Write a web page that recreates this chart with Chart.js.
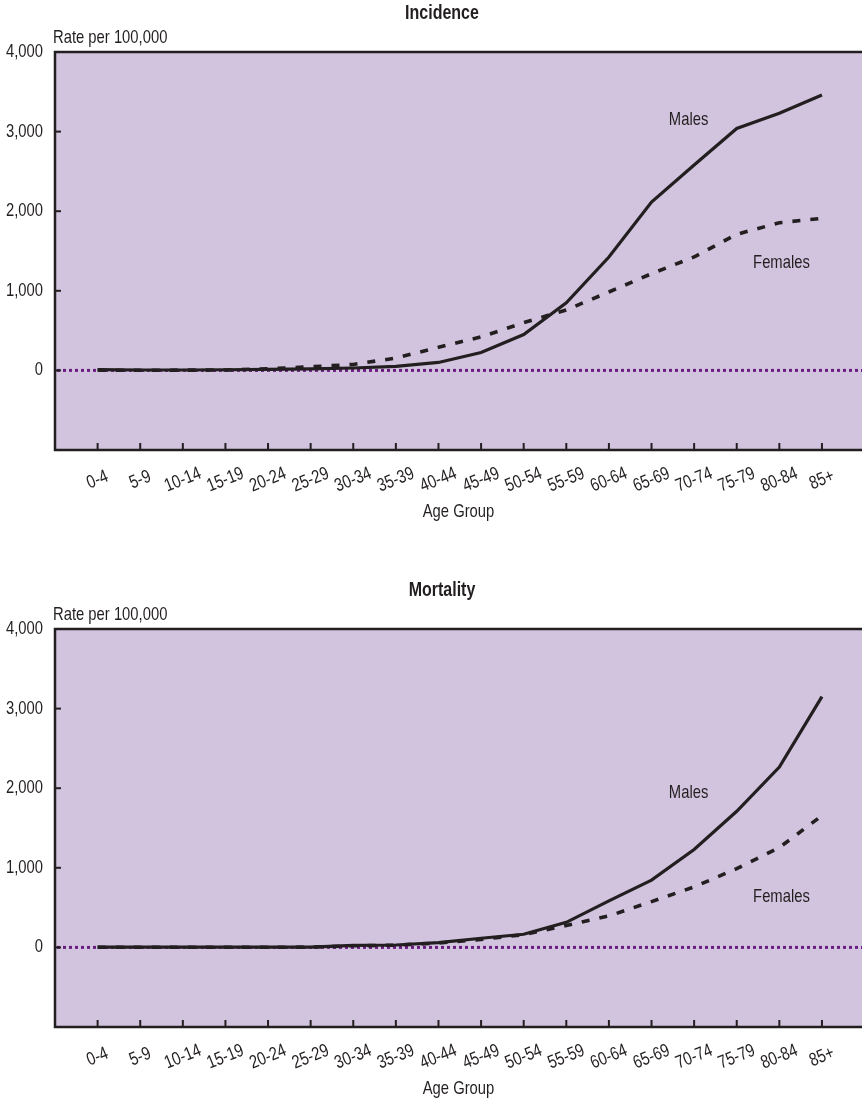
<!DOCTYPE html>
<html>
<head>
<meta charset="utf-8">
<script src="https://cdn.jsdelivr.net/npm/chart.js@4"></script>
<style>
  html, body { margin: 0; padding: 0; background: #fff; overflow: hidden; }
  .box { position: relative; width: 862px; height: 577px; overflow: hidden; }
  .box.last { height: 522px; }
</style>
</head>
<body>
<div class="box"><canvas id="incidence" width="862" height="577"></canvas></div>
<div class="box last"><canvas id="mortality" width="862" height="577"></canvas></div>
<script>
const ageGroups = ['0-4', '5-9', '10-14', '15-19', '20-24', '25-29', '30-34', '35-39', '40-44',
  '45-49', '50-54', '55-59', '60-64', '65-69', '70-74', '75-79', '80-84', '85+'];
const yTicks = [0, 1000, 2000, 3000, 4000];

const incidenceMales = [10, 5, 5, 8, 12, 20, 30, 50, 100, 225, 450, 850, 1425, 2115, 2580, 3040, 3230, 3460];
const incidenceFemales = [2, 2, 3, 5, 20, 45, 75, 155, 290, 420, 600, 760, 985, 1215, 1425, 1710, 1855, 1910];
const mortalityMales = [3, 3, 3, 3, 3, 3, 25, 30, 60, 115, 165, 315, 585, 845, 1230, 1710, 2265, 3150];
const mortalityFemales = [2, 2, 2, 2, 2, 3, 20, 28, 55, 100, 160, 275, 395, 575, 760, 990, 1255, 1655];

const FONT = "'Liberation Sans', Arial, sans-serif";
const INK = '#231f20';

// narrow text: squeeze Liberation Sans horizontally
const text = (ctx, str, x, y, align, rot) => {
  ctx.save();
  ctx.translate(x, y);
  if (rot) ctx.rotate(rot);
  ctx.scale(0.8, 1);
  ctx.textAlign = align;
  ctx.fillText(str, 0, 0);
  ctx.restore();
};

const frame = {
  id: 'frame',
  beforeDraw(chart) {
    const { ctx, chartArea: a } = chart;
    ctx.save();
    ctx.fillStyle = '#d2c4de';
    ctx.fillRect(a.left, a.top, chart.width - a.left, a.bottom - a.top);
    ctx.restore();
  },
  beforeDatasetsDraw(chart) {
    const { ctx, chartArea: a, scales } = chart;
    const y0 = scales.y.getPixelForValue(0);
    ctx.save();
    ctx.strokeStyle = '#6a1d80';
    ctx.lineWidth = 3;
    ctx.setLineDash([3, 3]);
    ctx.beginPath();
    ctx.moveTo(a.left + 2, y0);
    ctx.lineTo(chart.width, y0);
    ctx.stroke();
    ctx.restore();
  },
  afterDatasetsDraw(chart, args, opts) {
    const { ctx, chartArea: a, scales } = chart;
    ctx.save();
    ctx.strokeStyle = INK;
    ctx.fillStyle = INK;
    ctx.lineWidth = 2.5;
    ctx.beginPath();
    ctx.moveTo(chart.width, a.top);
    ctx.lineTo(a.left, a.top);
    ctx.lineTo(a.left, a.bottom);
    ctx.lineTo(chart.width, a.bottom);
    ctx.stroke();

    // y ticks and labels
    ctx.lineWidth = 2;
    ctx.font = '18.5px ' + FONT;
    ctx.textBaseline = 'middle';
    for (const v of yTicks) {
      const y = scales.y.getPixelForValue(v);
      ctx.beginPath();
      ctx.moveTo(a.left, y);
      ctx.lineTo(a.left + 6, y);
      ctx.stroke();
      text(ctx, v.toLocaleString('en-US'), a.left - 12, y, 'right');
    }

    // x ticks and rotated labels
    ageGroups.forEach((label, i) => {
      const x = scales.x.getPixelForValue(i);
      ctx.beginPath();
      ctx.moveTo(x, a.bottom);
      ctx.lineTo(x, a.bottom - 7);
      ctx.stroke();
      text(ctx, label, x, a.bottom + 30, 'center', -22 * Math.PI / 180);
    });

    text(ctx, 'Rate per 100,000', a.left - 2, a.top - 14, 'left');
    text(ctx, 'Age Group', (a.left + chart.width) / 2, a.bottom + 62, 'center');

    for (const note of opts.notes) {
      text(ctx, note.text, scales.x.getPixelForValue(note.x), scales.y.getPixelForValue(note.y), 'center');
    }

    ctx.font = 'bold 20px ' + FONT;
    text(ctx, opts.title, 442, 13, 'center');
    ctx.restore();
  }
};

function drawChart(id, title, males, females, notes) {
  new Chart(document.getElementById(id), {
    type: 'line',
    data: {
      datasets: [
        {
          label: 'Males',
          data: males.map((v, i) => ({ x: i, y: v })),
          borderColor: INK,
          borderWidth: 3.2,
          pointRadius: 0,
          tension: 0
        },
        {
          label: 'Females',
          data: females.map((v, i) => ({ x: i, y: v })),
          borderColor: INK,
          borderWidth: 3.6,
          borderDash: [8, 10],
          pointRadius: 0,
          tension: 0
        }
      ]
    },
    options: {
      responsive: false,
      animation: false,
      layout: { padding: { left: 55, top: 52, right: 0, bottom: 127 } },
      scales: {
        x: { type: 'linear', min: -1, max: 17.94, display: false },
        y: { min: -1000, max: 4000, display: false }
      },
      plugins: {
        legend: { display: false },
        tooltip: { enabled: false },
        frame: { title, notes }
      }
    },
    plugins: [frame]
  });
}

drawChart('incidence', 'Incidence', incidenceMales, incidenceFemales, [
  { text: 'Males', x: 13.87, y: 3145 },
  { text: 'Females', x: 16.05, y: 1350 }
]);
drawChart('mortality', 'Mortality', mortalityMales, mortalityFemales, [
  { text: 'Males', x: 13.87, y: 1945 },
  { text: 'Females', x: 16.05, y: 630 }
]);
</script>
</body>
</html>
